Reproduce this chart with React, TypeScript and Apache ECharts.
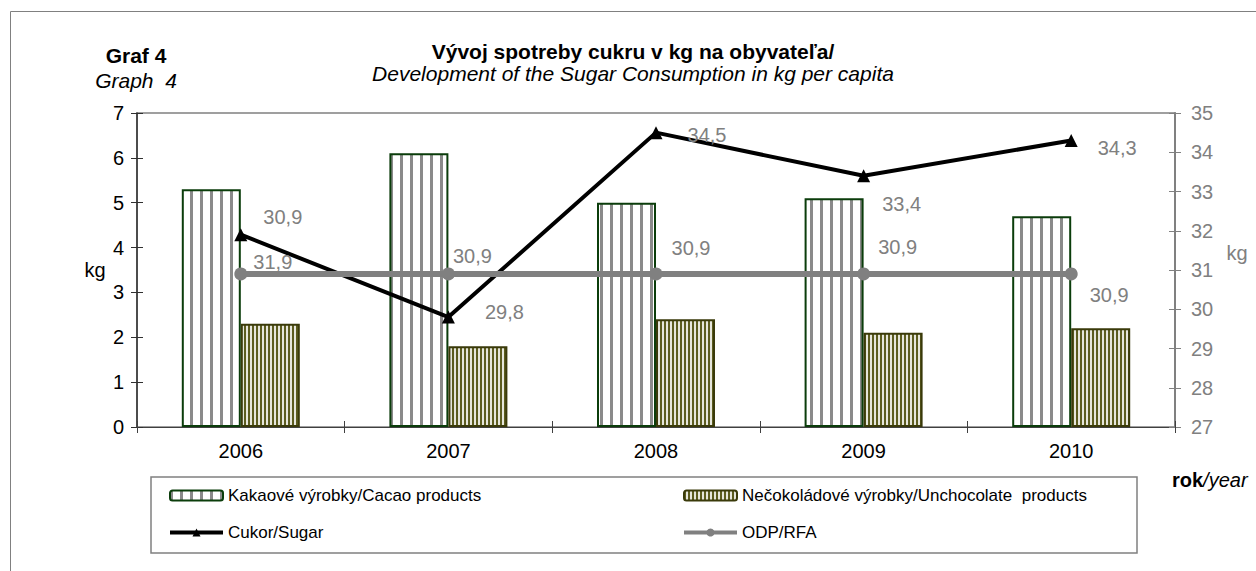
import React, { useEffect, useRef } from "react";
import * as echarts from "echarts";

const years = ["2006", "2007", "2008", "2009", "2010"];
const cacao = [5.3, 6.1, 5.0, 5.1, 4.7];
const unchocolate = [2.3, 1.8, 2.4, 2.1, 2.2];
const sugar = [31.9, 29.8, 34.5, 33.4, 34.3];
const odp = [30.9, 30.9, 30.9, 30.9, 30.9];

const leftMin = 0;
const leftMax = 7;
const rightMin = 27;
const rightMax = 35;

// label placement (layout only)
const sugarLabelOffsets = [[32, 27], [56, -5], [51, 2], [38, 28], [46, 8]];
const odpLabelOffsets = [[42, -57], [24, -18], [35, -26], [34, -27], [38, 21]];

const names = {
  cacao: "Kakaové výrobky/Cacao products",
  unchoc: "Nečokoládové výrobky/Unchocolate  products",
  sugar: "Cukor/Sugar",
  odp: "ODP/RFA",
};

const FONT = "'Liberation Sans', Arial, sans-serif";
const TICK_FS = 20;
const LABEL_FS = 20;
const LEGEND_FS = 17;

function makeStripes(period: number, stripeW: number, bg: string, fg: string) {
  const c = document.createElement("canvas");
  c.width = period;
  c.height = period;
  const ctx = c.getContext("2d")!;
  ctx.fillStyle = bg;
  ctx.fillRect(0, 0, period, period);
  ctx.fillStyle = fg;
  ctx.fillRect(0, 0, stripeW, period);
  return c;
}

const fmt = (p: any) => Number(p.value).toFixed(1).replace(".", ",");

export default function App() {
  const ref = useRef<HTMLDivElement>(null);
  useEffect(() => {
    if (!ref.current) return;
    const chart = echarts.init(ref.current, undefined, { renderer: "svg" });
    const cacaoPattern = {
      image: makeStripes(10, 3, "#ffffff", "#8a8a8a"),
      repeat: "repeat",
      imageWidth: 10,
      imageHeight: 10,
    };
    const unchocPattern = {
      image: makeStripes(4, 2, "#e6e6dc", "#5c5c1f"),
      repeat: "repeat",
      imageWidth: 4,
      imageHeight: 4,
    };
    const legendText = { fontSize: LEGEND_FS, color: "#000", fontFamily: FONT };
    const option: any = {
      animation: false,
      backgroundColor: "#ffffff",
      textStyle: { fontFamily: FONT },
      grid: {
        left: 137,
        right: 81,
        top: 113,
        bottom: 144,
        show: true,
        borderColor: "#808080",
        borderWidth: 1.5,
        backgroundColor: "transparent",
      },
      legend: [
        {
          data: [names.cacao, names.sugar],
          orient: "vertical",
          left: 163,
          top: 482,
          itemWidth: 53,
          itemHeight: 10,
          itemGap: 20,
          textStyle: legendText,
          lineStyle: { width: 4 },
        },
        {
          data: [names.unchoc, names.odp],
          orient: "vertical",
          left: 677,
          top: 482,
          itemWidth: 53,
          itemHeight: 10,
          itemGap: 20,
          textStyle: legendText,
          lineStyle: { width: 4 },
        },
      ],
      xAxis: [
        {
          type: "category",
          data: years,
          boundaryGap: true,
          axisLine: { lineStyle: { color: "#404040", width: 1 } },
          axisTick: { show: true, length: 6, lineStyle: { color: "#404040" } },
          axisLabel: { fontSize: TICK_FS, color: "#000", margin: 14, fontFamily: FONT },
          splitLine: { show: false },
        },
        {
          type: "category",
          data: years,
          position: "bottom",
          boundaryGap: true,
          axisLine: { show: false },
          axisTick: { show: true, inside: true, length: 6, lineStyle: { color: "#404040" } },
          axisLabel: { show: false },
          splitLine: { show: false },
        },
      ],
      yAxis: [
        {
          type: "value",
          min: leftMin,
          max: leftMax,
          interval: 1,
          axisLine: { show: true, lineStyle: { color: "#303030", width: 1.5 } },
          axisTick: { show: true, length: 6, lineStyle: { color: "#303030" } },
          axisLabel: { fontSize: TICK_FS, color: "#000", margin: 13, fontFamily: FONT },
          splitLine: { show: false },
        },
        {
          type: "value",
          min: rightMin,
          max: rightMax,
          interval: 1,
          position: "right",
          axisLine: { show: true, lineStyle: { color: "#808080", width: 2 } },
          axisTick: { show: true, length: 6, lineStyle: { color: "#808080" } },
          axisLabel: { fontSize: TICK_FS, color: "#808080", margin: 16, fontFamily: FONT },
          splitLine: { show: false },
        },
        {
          type: "value",
          min: leftMin,
          max: leftMax,
          interval: 1,
          position: "left",
          axisLine: { show: false },
          axisTick: { show: true, inside: true, length: 6, lineStyle: { color: "#303030" } },
          axisLabel: { show: false },
          splitLine: { show: false },
        },
        {
          type: "value",
          min: rightMin,
          max: rightMax,
          interval: 1,
          position: "right",
          axisLine: { show: false },
          axisTick: { show: true, inside: true, length: 6, lineStyle: { color: "#808080" } },
          axisLabel: { show: false },
          splitLine: { show: false },
        },
      ],
      series: [
        {
          name: names.cacao,
          type: "bar",
          yAxisIndex: 0,
          data: cacao,
          barWidth: 59,
          barGap: "0%",
          itemStyle: { color: cacaoPattern, borderColor: "#0b3d0b", borderWidth: 2 },
        },
        {
          name: names.unchoc,
          type: "bar",
          yAxisIndex: 0,
          data: unchocolate,
          barWidth: 59,
          barGap: "0%",
          itemStyle: { color: unchocPattern, borderColor: "#3a3a0a", borderWidth: 2 },
        },
        {
          name: names.sugar,
          type: "line",
          yAxisIndex: 1,
          data: sugar.map((v, i) => ({
            value: v,
            label: { offset: sugarLabelOffsets[i] },
          })),
          symbol: "triangle",
          symbolSize: 13,
          itemStyle: { color: "#000" },
          lineStyle: { color: "#000", width: 4 },
          label: {
            show: true,
            position: "inside",
            formatter: fmt,
            fontSize: LABEL_FS,
            color: "#808080",
            fontFamily: FONT,
          },
          z: 3,
        },
        {
          name: names.odp,
          type: "line",
          yAxisIndex: 1,
          data: odp.map((v, i) => ({
            value: v,
            label: { offset: odpLabelOffsets[i] },
          })),
          symbol: "circle",
          symbolSize: 13,
          itemStyle: { color: "#808080" },
          lineStyle: { color: "#808080", width: 6 },
          label: {
            show: true,
            position: "inside",
            formatter: fmt,
            fontSize: LABEL_FS,
            color: "#808080",
            fontFamily: FONT,
          },
          z: 4,
        },
      ],
      graphic: [
        {
          type: "rect",
          shape: { x: 10.5, y: 11.5, width: 1400, height: 800 },
          style: { fill: "none", stroke: "#808080", lineWidth: 1 },
          silent: true,
          z: -10,
        },
        {
          type: "rect",
          shape: { x: 151, y: 477, width: 986, height: 76 },
          style: { fill: "none", stroke: "#808080", lineWidth: 1.5 },
          silent: true,
        },
        {
          type: "text",
          x: 136,
          y: 55,
          style: {
            text: "Graf 4",
            font: `bold 21px ${FONT}`,
            fill: "#000",
            align: "center",
            verticalAlign: "middle",
          },
        },
        {
          type: "text",
          x: 136,
          y: 80,
          style: {
            text: "Graph  4",
            font: `italic 21px ${FONT}`,
            fill: "#000",
            align: "center",
            verticalAlign: "middle",
          },
        },
        {
          type: "text",
          x: 633,
          y: 51,
          style: {
            text: "Vývoj spotreby cukru v kg na obyvateľa/",
            font: `bold 21px ${FONT}`,
            fill: "#000",
            align: "center",
            verticalAlign: "middle",
          },
        },
        {
          type: "text",
          x: 633,
          y: 73,
          style: {
            text: "Development of the Sugar Consumption in kg per capita",
            font: `italic 21px ${FONT}`,
            fill: "#000",
            align: "center",
            verticalAlign: "middle",
          },
        },
        {
          type: "text",
          x: 95,
          y: 270,
          style: {
            text: "kg",
            font: `20px ${FONT}`,
            fill: "#000",
            align: "center",
            verticalAlign: "middle",
          },
        },
        {
          type: "text",
          x: 1237,
          y: 253,
          style: {
            text: "kg",
            font: `20px ${FONT}`,
            fill: "#808080",
            align: "center",
            verticalAlign: "middle",
          },
        },
        {
          type: "text",
          x: 1172,
          y: 480,
          style: {
            text: "{b|rok}{i|/year}",
            rich: {
              b: { font: `bold 20px ${FONT}`, fill: "#000" },
              i: { font: `italic 20px ${FONT}`, fill: "#000" },
            },
            align: "left",
            verticalAlign: "middle",
          },
        },
      ],
    };
    chart.setOption(option);
    return () => chart.dispose();
  }, []);
  return (
    <div
      ref={ref}
      style={{ position: "absolute", left: 0, top: 0, width: 1256, height: 571 }}
    />
  );
}
